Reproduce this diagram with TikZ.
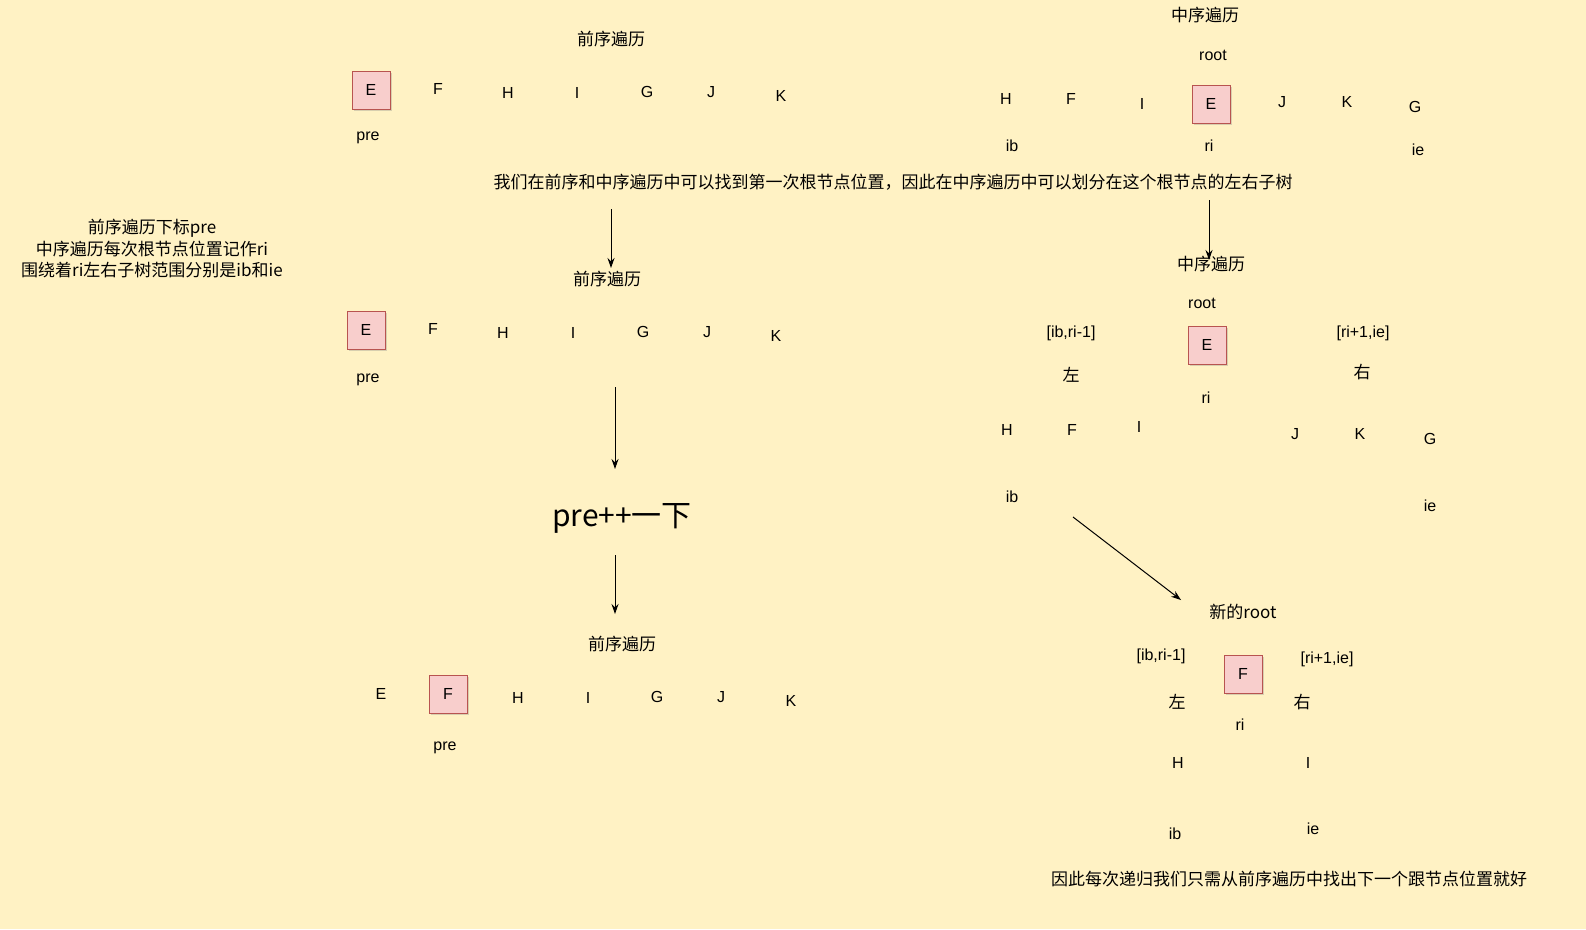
\documentclass[tikz,border=0pt]{standalone}
\usepackage{fontspec}
\setmainfont{Liberation Sans}
\newfontfamily\cjk{Noto Sans CJK SC}
\usetikzlibrary{arrows.meta,shadows}
\definecolor{bg}{HTML}{FFF2C4}
\definecolor{pinkf}{HTML}{F8CECC}
\definecolor{pinkd}{HTML}{B85450}
\tikzset{
 t/.style={font=\fontsize{16pt}{19pt}\selectfont, inner sep=0pt},
 c/.style={font=\cjk\fontsize{17pt}{22pt}\selectfont, inner sep=0pt, align=center},
 bx/.style={draw=pinkd, line width=0.9pt, fill=pinkf, minimum size=38pt, inner sep=0pt, font=\fontsize{16pt}{19pt}\selectfont, drop shadow={shadow xshift=2pt,shadow yshift=-2pt,opacity=0.3}},
 ar/.style={-{Stealth[length=10pt,width=7pt]}, line width=1pt}
}
\begin{document}
\begin{tikzpicture}[x=1pt,y=-1pt]
\fill[bg] (0,0) rectangle (1586,929);
\useasboundingbox (0,0) rectangle (1586,929);
% top-left
\node[c] (p1) at (611,39) {前序遍历};
\node[bx] (a1) at (371,90) {E};
\node[t] (a2) at (438,89) {F};
\node[t] (a3) at (508,93) {H};
\node[t] (a4) at (577,93) {I};
\node[t] (a5) at (647,92) {G};
\node[t] (a6) at (711,92) {J};
\node[t] (a7) at (781,96) {K};
\node[t] (a8) at (368,138) {pre};
% top-right
\node[c] (m1) at (1205,15) {中序遍历};
\node[t] (m2) at (1213,55) {root};
\node[t] (b1) at (1006,99) {H};
\node[t] (b2) at (1071,99) {F};
\node[t] (b3) at (1142,104) {I};
\node[bx] (b4) at (1211,104) {E};
\node[t] (b5) at (1282,102) {J};
\node[t] (b6) at (1347,102) {K};
\node[t] (b7) at (1415,107) {G};
\node[t] (b8) at (1012,146) {ib};
\node[t] (b9) at (1209,146) {ri};
\node[t] (b10) at (1418,150) {ie};
\node[c] (s1) at (893,182) {我们在前序和中序遍历中可以找到第一次根节点位置，因此在中序遍历中可以划分在这个根节点的左右子树};
\node[c, font=\cjk\fontsize{17pt}{21.5pt}\selectfont] (note) at (152,249) {前序遍历下标pre\\中序遍历每次根节点位置记作ri\\围绕着ri左右子树范围分别是ib和ie};
% middle-left
\coordinate (ar1s) at (611,209); \coordinate (ar1e) at (611,268);
\draw[ar] (ar1s) -- (ar1e);
\node[c] (p2) at (607,279) {前序遍历};
\node[bx] (c1) at (366,330) {E};
\node[t] (c2) at (433,329) {F};
\node[t] (c3) at (503,333) {H};
\node[t] (c4) at (573,333) {I};
\node[t] (c5) at (643,332) {G};
\node[t] (c6) at (707,332) {J};
\node[t] (c7) at (776,336) {K};
\node[t] (c8) at (368,380) {pre};
\coordinate (ar2s) at (615,387); \coordinate (ar2e) at (615,469);
\draw[ar] (ar2s) -- (ar2e);
\node[font=\cjk\fontsize{30pt}{36pt}\selectfont, inner sep=0pt] (pp) at (622,518) {pre++一下};
\coordinate (ar3s) at (615,555); \coordinate (ar3e) at (615,614);
\draw[ar] (ar3s) -- (ar3e);
\node[c] (p3) at (622,644) {前序遍历};
\node[t] (d1) at (381,694) {E};
\node[bx] (d2) at (448,694) {F};
\node[t] (d3) at (518,698) {H};
\node[t] (d4) at (588,698) {I};
\node[t] (d5) at (657,697) {G};
\node[t] (d6) at (721,697) {J};
\node[t] (d7) at (791,701) {K};
\node[t] (d8) at (445,748) {pre};
% middle-right
\coordinate (ar4s) at (1209,200); \coordinate (ar4e) at (1209,260);
\draw[ar] (ar4s) -- (ar4e);
\node[c] (m3) at (1211,264) {中序遍历};
\node[t] (m4) at (1202,303) {root};
\node[t] (e0) at (1071,333) {[ib,ri-1]};
\node[bx] (e1) at (1207,345) {E};
\node[t] (e2) at (1363,333) {[ri+1,ie]};
\node[c] (e3) at (1071,375) {左};
\node[c] (e4) at (1362,372) {右};
\node[t] (e5) at (1206,398) {ri};
\node[t] (f1) at (1007,430) {H};
\node[t] (f2) at (1072,430) {F};
\node[t] (f3) at (1139,427) {I};
\node[t] (f4) at (1295,434) {J};
\node[t] (f5) at (1360,434) {K};
\node[t] (f6) at (1430,439) {G};
\node[t] (f7) at (1012,497) {ib};
\node[t] (f8) at (1430,506) {ie};
\coordinate (ar5s) at (1073,517); \coordinate (ar5e) at (1181,600);
\draw[ar] (ar5s) -- (ar5e);
% bottom-right
\node[c] (g0) at (1243,612) {新的root};
\node[t] (g1) at (1161,656) {[ib,ri-1]};
\node[bx] (g2) at (1243,674) {F};
\node[t] (g3) at (1327,659) {[ri+1,ie]};
\node[c] (g4) at (1177,702) {左};
\node[c] (g5) at (1302,702) {右};
\node[t] (g6) at (1240,725) {ri};
\node[t] (g7) at (1178,763) {H};
\node[t] (g8) at (1308,763) {I};
\node[t] (g9) at (1175,834) {ib};
\node[t] (g10) at (1313,829) {ie};
\node[c] (s2) at (1289,879) {因此每次递归我们只需从前序遍历中找出下一个跟节点位置就好};
\end{tikzpicture}
\end{document}
